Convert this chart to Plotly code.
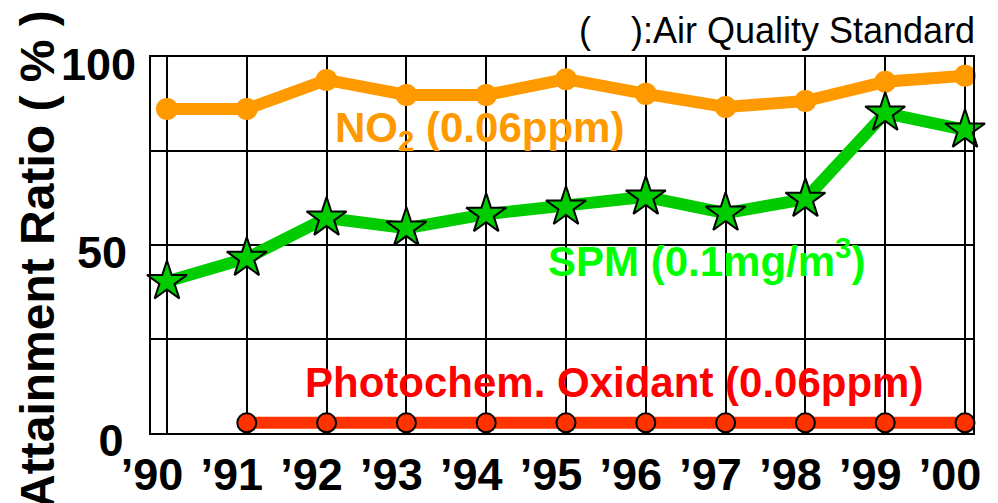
import plotly.graph_objects as go

# Fiscal years and attainment ratios (%) of the air quality standards
years = [1990, 1991, 1992, 1993, 1994, 1995, 1996, 1997, 1998, 1999, 2000]
year_labels = ["\u201990", "\u201991", "\u201992", "\u201993", "\u201994", "\u201995",
               "\u201996", "\u201997", "\u201998", "\u201999", "\u201900"]
y_ticks = [0, 25, 50, 75, 100]
y_tick_labels = ["0\u00a0", "", "50\u2009", "", "100"]
no2 = [86.2, 86.2, 93.9, 89.9, 89.9, 94.1, 90.2, 86.7, 88.3, 93.4, 95.0]
spm = [40.3, 46.5, 57.2, 54.5, 58.2, 60.1, 62.8, 58.5, 62.2, 85.1, 80.6]
ox_years = [1991, 1992, 1993, 1994, 1995, 1996, 1997, 1998, 1999, 2000]
oxidant = [2.7, 2.7, 2.7, 2.7, 2.7, 2.7, 2.7, 2.7, 2.7, 2.7]

FONT = "Liberation Sans, Arial, sans-serif"

fig = go.Figure()

fig.add_trace(go.Scatter(
    x=years, y=no2, mode="lines+markers",
    line=dict(color="#FF9900", width=12),
    marker=dict(symbol="circle", size=22, color="#FF9900"),
    showlegend=False, cliponaxis=False,
))
fig.add_trace(go.Scatter(
    x=years, y=spm, mode="lines+markers",
    line=dict(color="#00CC00", width=12),
    marker=dict(symbol="star", size=30, color="#00CC00",
                line=dict(color="black", width=2)),
    showlegend=False, cliponaxis=False,
))
fig.add_trace(go.Scatter(
    x=ox_years, y=oxidant, mode="lines+markers",
    line=dict(color="#FF3300", width=12),
    marker=dict(symbol="circle", size=19, color="#FF3300",
                line=dict(color="black", width=2)),
    showlegend=False, cliponaxis=False,
))

# Series labels with their air quality standards
fig.add_annotation(x=1992.08, y=80.5, xref="x", yref="y", xanchor="left", yanchor="middle",
                   text="NO<sub>2</sub> (0.06ppm)", showarrow=False,
                   font=dict(family=FONT, size=42, color="#FF9900", weight="bold"))
fig.add_annotation(x=1994.75, y=46.5, xref="x", yref="y", xanchor="left", yanchor="middle",
                   text="SPM (0.1mg/m<sup>3</sup>)", showarrow=False,
                   font=dict(family=FONT, size=42, color="#00FF00", weight="bold"))
fig.add_annotation(x=1991.7, y=13.3, xref="x", yref="y", xanchor="left", yanchor="middle",
                   text="Photochem. Oxidant (0.06ppm)", showarrow=False,
                   font=dict(family=FONT, size=42, color="#FF0000", weight="bold"))

# Note on the parentheses
fig.add_annotation(x=1.005, y=1.07, xref="paper", yref="paper", xanchor="right", yanchor="middle",
                   text="(&nbsp;&nbsp;&nbsp;&nbsp;):Air Quality Standard", showarrow=False,
                   font=dict(family=FONT, size=36, color="black"))

# Axis title
fig.add_annotation(x=-0.1375, y=0.463, xref="paper", yref="paper", xanchor="center", yanchor="middle",
                   text="Attainment Ratio ( % )", textangle=-90, showarrow=False,
                   font=dict(family=FONT, size=48, color="black", weight="bold"))

fig.update_xaxes(
    range=[1989.8, 2000.1], tickmode="array", tickvals=years, ticktext=year_labels,
    showgrid=True, gridcolor="black", gridwidth=2,
    showline=True, linecolor="black", linewidth=2, mirror=True,
    zeroline=False, ticks="", automargin=False,
    tickfont=dict(family=FONT, size=45, color="black", weight="bold"),
    ticklabelshift=-15, ticklabelstandoff=1,
)
fig.update_yaxes(
    range=[0, 100], tickmode="array", tickvals=y_ticks, ticktext=y_tick_labels,
    showgrid=True, gridcolor="black", gridwidth=2,
    showline=True, linecolor="black", linewidth=2, mirror=True,
    zeroline=False, ticks="", automargin=False,
    tickfont=dict(family=FONT, size=45, color="black", weight="bold"),
    ticklabelshift=7, ticklabelstandoff=4,
)

fig.update_layout(
    width=998, height=503,
    margin=dict(l=151, r=25, t=57, b=70),
    paper_bgcolor="white", plot_bgcolor="white",
)

fig.write_html("out.html")
